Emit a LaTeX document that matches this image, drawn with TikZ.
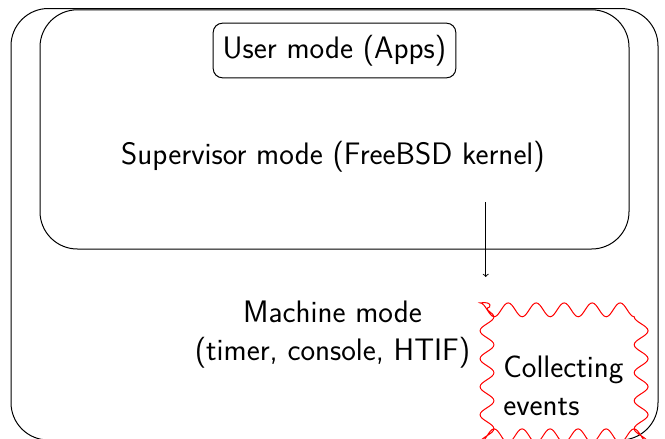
\documentclass[tikz,border=0pt]{standalone}
\usetikzlibrary{decorations.pathmorphing}
\begin{document}
\begin{tikzpicture}[x=0.75pt,y=-0.75pt,
  every node/.style={font=\sffamily\fontsize{23.3}{28.5}\selectfont},
  boxline/.style={draw=black,line width=0.75pt,rounded corners=28pt},
  wavy/.style={draw=red,line width=0.75pt,decorate,decoration={snake,segment length=21pt,amplitude=5.2pt}},
  textlabel/.style={inner sep=0pt,align=center},
  userbox/.style={draw=black,line width=0.75pt,rounded corners=7pt,inner xsep=6.5pt,minimum height=41pt,minimum width=182pt}]
\useasboundingbox (0,0) rectangle (665,439);
\clip (0,0) rectangle (665,439);
% outer (machine) box
\draw[boxline] (11,8.5) rectangle (658,440);
% inner (supervisor) box
\draw[boxline] (40,9.8) rectangle (629,249);
% user mode box
\node[userbox] (user) at (334.5,50.5) {User mode (Apps)};
% labels
\node[textlabel] (super) at (333,157) {Supervisor mode (FreeBSD kernel)};
\node[textlabel] (machine) at (332.5,335) {Machine mode\\(timer, console, HTIF)};
% collecting events
\draw[wavy] (487,308) -- (487,429) -- (662,429) -- (662,308) -- cycle;
\node[textlabel,align=left,anchor=west] (collect) at (503,386) {Collecting\\events};
% arrow
\coordinate (astart) at (485.7,202);
\coordinate (aend) at (485.7,277);
\draw[->,line width=0.7pt] (astart) -- (aend);
\end{tikzpicture}
\end{document}
